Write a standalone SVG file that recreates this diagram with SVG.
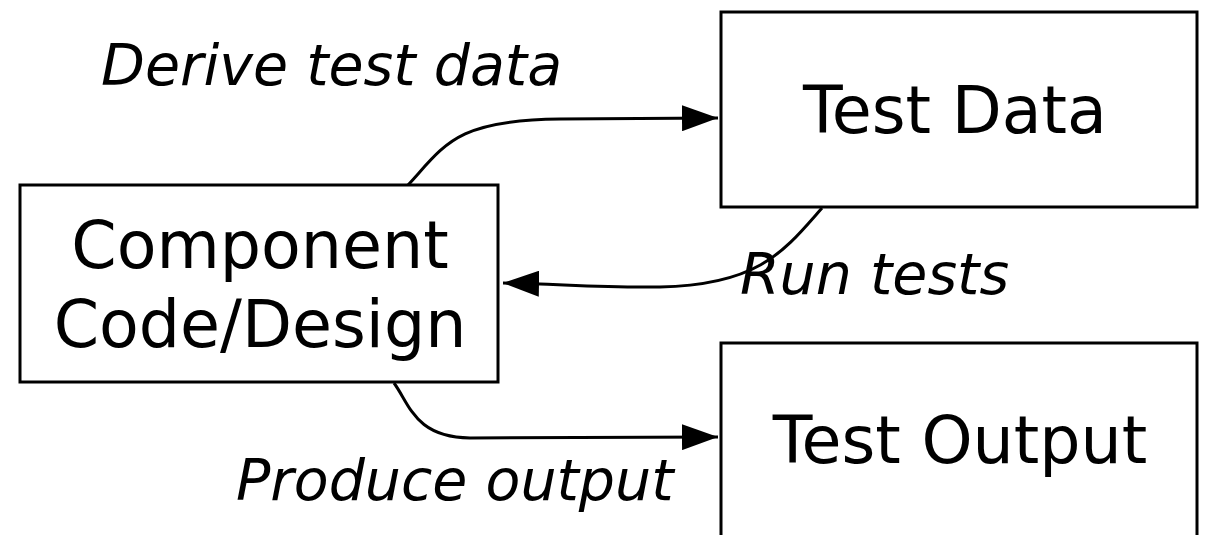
<svg xmlns="http://www.w3.org/2000/svg" width="1209" height="535" viewBox="0 0 1209 535">
  <style>
    .box { fill: #ffffff; stroke: #000000; stroke-width: 3; }
    .node-text { font-family: "DejaVu Sans", Verdana, sans-serif; font-size: 65px; fill: #000000; text-anchor: middle; }
    .edge { fill: none; stroke: #000000; stroke-width: 3; marker-end: url(#arrow); }
    .edge-label { font-family: "DejaVu Sans", Verdana, sans-serif; font-size: 57px; font-style: italic; fill: #000000; }
  </style>
  <defs>
    <marker id="arrow" markerUnits="userSpaceOnUse" markerWidth="36" markerHeight="26" refX="36" refY="13" orient="auto">
      <path d="M0,0 L36,13 L0,26 z" fill="#000000"/>
    </marker>
  </defs>
  <rect width="1209" height="535" fill="#ffffff"/>

  <g id="component">
    <rect class="box" x="20" y="185" width="478" height="197"/>
    <text class="node-text" x="260" y="268">Component</text>
    <text class="node-text" x="260" y="347">Code/Design</text>
  </g>

  <g id="test-data">
    <rect class="box" x="721" y="12" width="476" height="195"/>
    <text class="node-text" x="955" y="133">Test Data</text>
  </g>

  <g id="test-output">
    <rect class="box" x="721" y="343" width="476" height="220"/>
    <text class="node-text" x="960" y="463">Test Output</text>
  </g>

  <g id="connectors">
    <path class="edge" d="M 408 185 C 445 145 455 120 560 119 L 718 118"/>
    <path class="edge" d="M 822 208 C 785 250 760 285 660 287 C 600 288 560 284 503 283"/>
    <path class="edge" d="M 394 383 C 410 405 415 437 470 438 L 718 437"/>
  </g>

  <g id="labels">
    <text class="edge-label" x="101" y="85">Derive test data</text>
    <text class="edge-label" x="740" y="294">Run tests</text>
    <text class="edge-label" x="236" y="500">Produce output</text>
  </g>
</svg>
